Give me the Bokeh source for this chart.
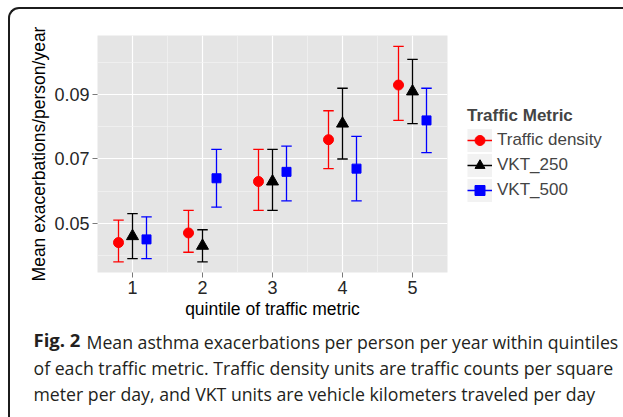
from bokeh.plotting import figure
from bokeh.layouts import column
from bokeh.models import (Range1d, FixedTicker, Legend, LegendItem, Label,
                          NumeralTickFormatter)
from bokeh.embed import file_html
from bokeh.resources import INLINE

# ---------------- data ----------------
quintile = [1, 2, 3, 4, 5]
series_names = ["Traffic density", "VKT_250", "VKT_500"]
series_colors = ["#FF0000", "#000000", "#0000FF"]
series_markers = ["circle", "triangle", "square"]
series_offsets = [-0.2, 0.0, 0.2]

td_mean = [0.044, 0.047, 0.063, 0.076, 0.093]
td_lo = [0.038, 0.041, 0.054, 0.067, 0.082]
td_hi = [0.051, 0.054, 0.073, 0.085, 0.105]

v250_mean = [0.046, 0.043, 0.063, 0.081, 0.091]
v250_lo = [0.039, 0.038, 0.054, 0.070, 0.081]
v250_hi = [0.053, 0.048, 0.073, 0.092, 0.101]

v500_mean = [0.045, 0.064, 0.066, 0.067, 0.082]
v500_lo = [0.039, 0.055, 0.057, 0.057, 0.072]
v500_hi = [0.052, 0.073, 0.074, 0.077, 0.092]

y_ticks = [0.05, 0.07, 0.09]
y_minor = [0.04, 0.06, 0.08, 0.10]
x_ticks = [1, 2, 3, 4, 5]
x_minor = [1.5, 2.5, 3.5, 4.5]

x_title = "quintile of traffic metric"
y_title = "Mean exacerbations/person/year"
legend_title = "Traffic Metric"
caption_bold = "Fig. 2"
caption_lines = [
    "Mean asthma exacerbations per person per year within quintiles",
    "of each traffic metric. Traffic density units are traffic counts per square",
    "meter per day, and VKT units are vehicle kilometers traveled per day",
]

means = [td_mean, v250_mean, v500_mean]
lows = [td_lo, v250_lo, v500_lo]
highs = [td_hi, v250_hi, v500_hi]

# ---------------- main figure ----------------
p = figure(frame_width=350, frame_height=237,
           min_border_left=87, min_border_right=176,
           min_border_top=26, min_border_bottom=145,
           x_range=Range1d(0.5, 5.5), y_range=Range1d(0.0347, 0.1084),
           output_backend="svg", toolbar_location=None,
           background_fill_color="#E5E5E5", border_fill_color=None,
           outline_line_color=None)

p.xaxis.ticker = FixedTicker(ticks=x_ticks, minor_ticks=x_minor)
p.yaxis.ticker = FixedTicker(ticks=y_ticks, minor_ticks=y_minor)
p.yaxis.formatter = NumeralTickFormatter(format="0.00")

for g in (p.xgrid, p.ygrid):
    g.grid_line_color = "#FFFFFF"
    g.grid_line_width = 1.2
    g.minor_grid_line_color = "#F4F4F4"
    g.minor_grid_line_width = 0.7

for ax in (p.xaxis, p.yaxis):
    ax.axis_line_color = None
    ax.major_tick_out = 5
    ax.major_tick_in = 0
    ax.minor_tick_out = 0
    ax.minor_tick_in = 0
    ax.major_tick_line_color = "#7a7a7a"
    ax.major_label_text_font = "Liberation Sans"
    ax.major_label_text_font_size = "18px"
    ax.major_label_text_color = "#262626"
    ax.major_label_standoff = 3
    ax.axis_label_text_font = "Liberation Sans"
    ax.axis_label_text_font_style = "normal"
    ax.axis_label_text_color = "#000000"
    ax.axis_label_standoff = 2
    ax.axis_label_text_font_size = "17.5px"

p.xaxis.axis_label = x_title
p.yaxis.axis_label = y_title

cap = 0.075
items = []
bg = p.segment(x0=[-10], y0=[0.0], x1=[-9], y1=[0.0],
               line_color="#F2F2F2", line_width=23)
for name, col, mk, off, m, lo, hi in zip(series_names, series_colors,
                                         series_markers, series_offsets,
                                         means, lows, highs):
    xs = [q + off for q in quintile]
    vert = p.segment(x0=xs, y0=lo, x1=xs, y1=hi, line_color=col,
                     line_width=1.3)
    p.segment(x0=[x - cap for x in xs], y0=hi, x1=[x + cap for x in xs],
              y1=hi, line_color=col, line_width=1.3)
    p.segment(x0=[x - cap for x in xs], y0=lo, x1=[x + cap for x in xs],
              y1=lo, line_color=col, line_width=1.3)
    size = {"circle": 10, "triangle": 12, "square": 9}[mk]
    sc = p.scatter(x=xs, y=m, marker=mk, size=size, fill_color=col,
                   line_color=col)
    items.append(LegendItem(label=name, renderers=[bg, vert, sc]))

legend = Legend(items=items, location="center_left", title=legend_title,
                title_text_font="Liberation Sans",
                title_text_font_style="bold", title_text_font_size="17px",
                title_standoff=2,
                label_text_font="Liberation Sans",
                label_text_font_size="17px", label_standoff=5,
                glyph_width=25, glyph_height=25, spacing=0, padding=0,
                margin=20, border_line_color=None,
                background_fill_alpha=0)
p.add_layout(legend, "right")

# ---------------- caption (in the bottom side panel) ----------------
# each label in the bottom panel is stacked below the previous one,
# so the y offsets compensate for that stacking
cap_font = "Open Sans"
cap_size = "17.7px"
cap_bold_size = "18.5px"
cap_color = "#231F20"
p.add_layout(Label(x=-64, y=7, x_units="screen", y_units="screen",
                   text=caption_bold, text_font=cap_font,
                   text_font_size=cap_bold_size, text_font_style="bold",
                   text_color=cap_color, text_baseline="alphabetic"),
             "below")
p.add_layout(Label(x=-11, y=29, x_units="screen", y_units="screen",
                   text=caption_lines[0], text_font=cap_font,
                   text_font_size=cap_size, text_color=cap_color,
                   text_baseline="alphabetic"), "below")
for line, by in zip(caption_lines[1:], [27, 25]):
    p.add_layout(Label(x=-64, y=by, x_units="screen", y_units="screen",
                       text=line, text_font=cap_font,
                       text_font_size=cap_size, text_color=cap_color,
                       text_baseline="alphabetic"), "below")

layout = column(p, spacing=0,
                styles={"margin-left": "8px", "margin-top": "7px",
                        "border-top": "2px solid #1c1c1c",
                        "border-left": "2px solid #1c1c1c",
                        "border-top-left-radius": "11px"})

open("out.html", "w").write(file_html(layout, INLINE))
